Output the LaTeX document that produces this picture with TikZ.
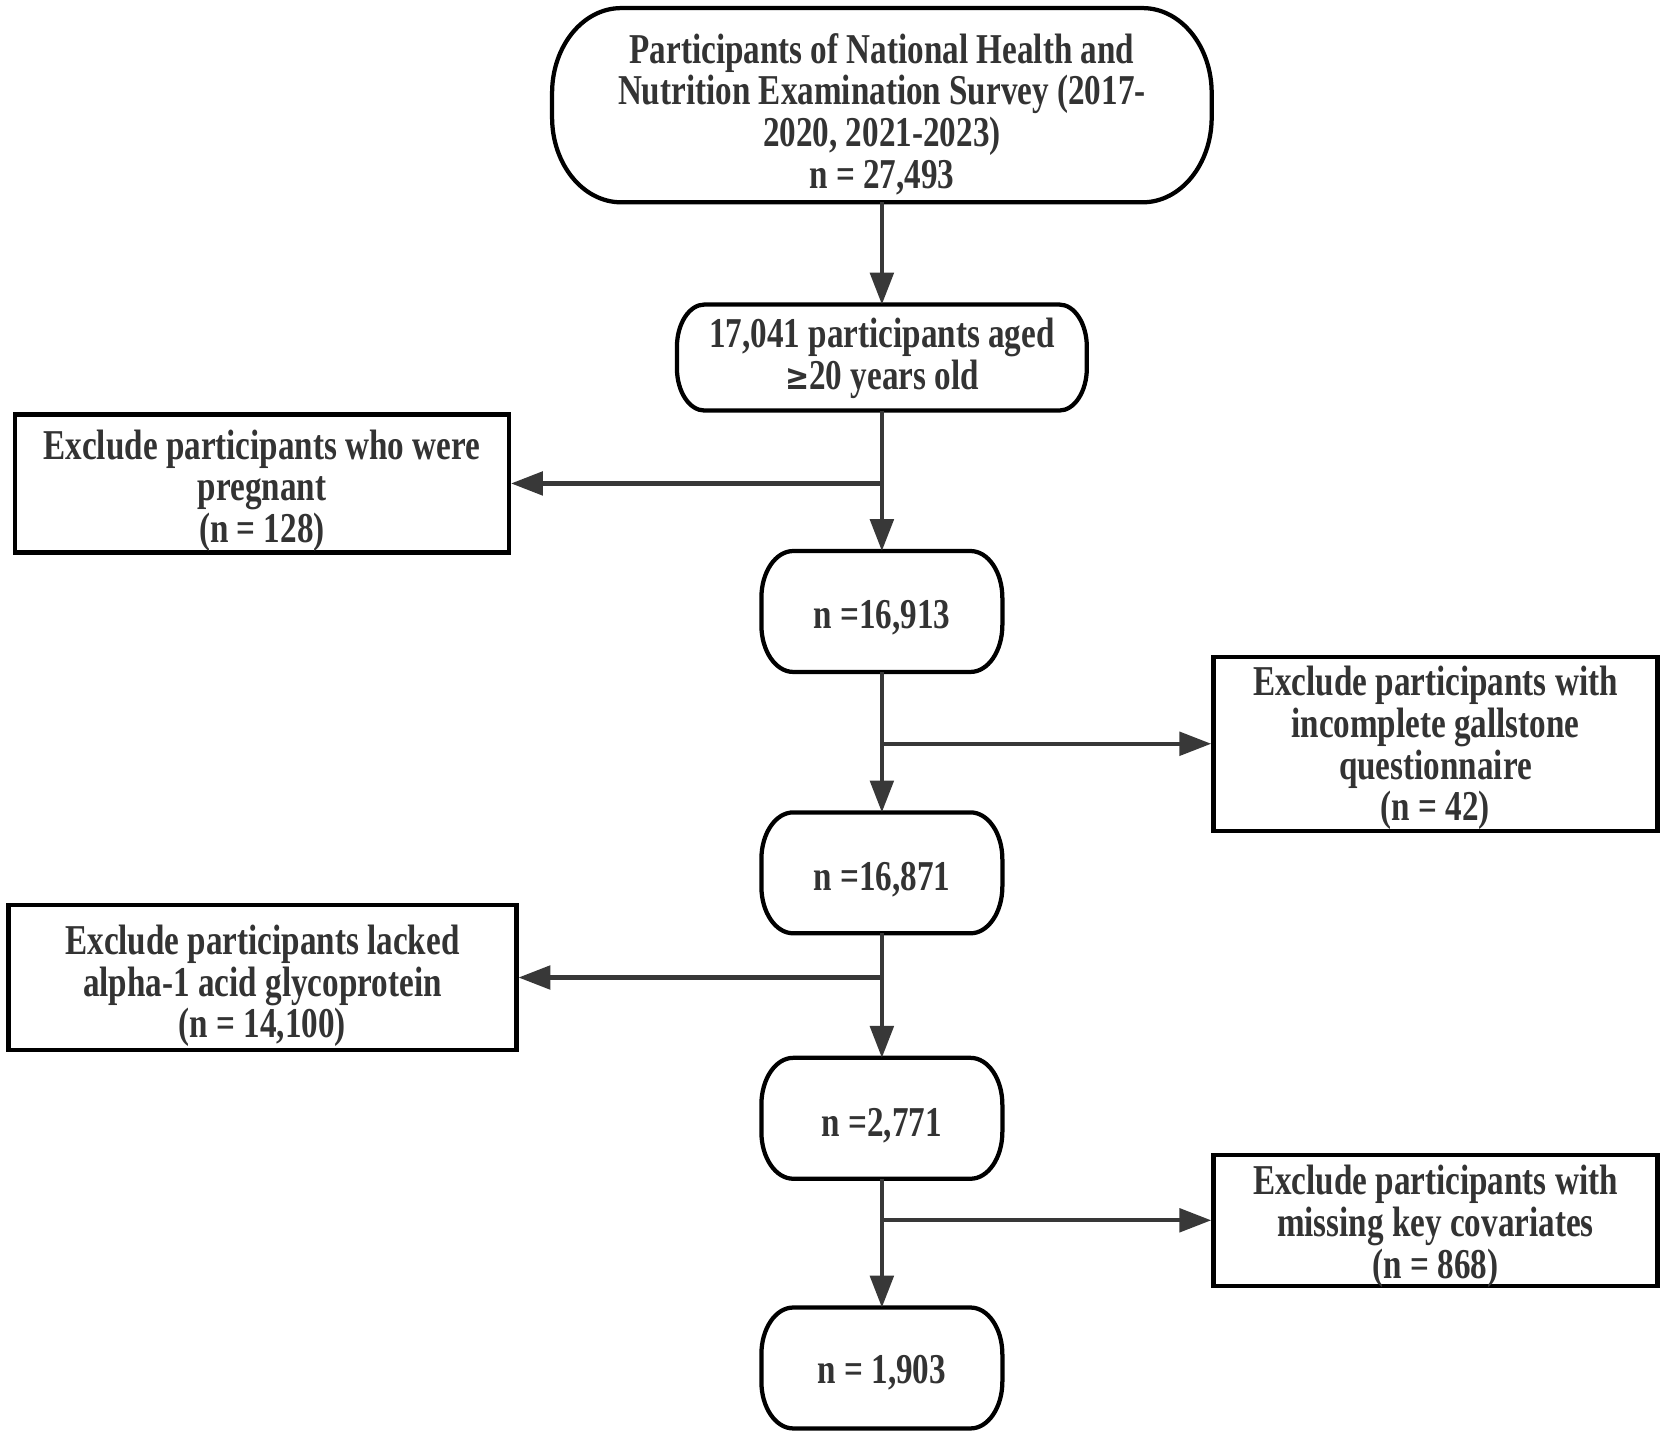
\documentclass[tikz,border=0pt]{standalone}
\usepackage{fontspec}
\setmainfont{Liberation Serif}[FakeStretch=0.78]
\usetikzlibrary{arrows.meta}
\definecolor{txt}{HTML}{333333}
\definecolor{ln}{HTML}{383838}
\newcommand\tstrut[1]{\rule{0pt}{#1pt}}
\newcommand\pillpath[3]{%
  \draw[boxline] ([xshift=#2]#1.north west) -- ([xshift=-#2]#1.north east)
    arc[start angle=90,end angle=0,x radius=#2,y radius=#3]
    -- ([yshift=#3]#1.south east)
    arc[start angle=0,end angle=-90,x radius=#2,y radius=#3]
    -- ([xshift=#2]#1.south west)
    arc[start angle=270,end angle=180,x radius=#2,y radius=#3]
    -- ([yshift=-#3]#1.north west)
    arc[start angle=180,end angle=90,x radius=#2,y radius=#3] -- cycle;}
\begin{document}
\begin{tikzpicture}[x=0.5pt,y=-0.5pt,
  boxline/.style={draw=black,line width=2pt},
  base/.style={align=center,text=txt,
    font=\fontsize{20}{19.7}\selectfont\bfseries,inner xsep=0pt,inner ysep=-12pt,
    execute at end node={\rule[-6pt]{0pt}{6pt}}},
  pill/.style={base},
  excl/.style={base,boxline,fill=white},
  conn/.style={draw=ln,line width=2pt,-{Triangle[length=15pt,width=11pt]}}]
\useasboundingbox (0,0) rectangle (1568,1350);
\node[pill,minimum width=310pt,minimum height=91pt] (b1) at (830,99)
  {\tstrut{25.5}Participants of National Health and\\Nutrition Examination Survey (2017-\\2020, 2021-2023)\\n = 27,493};
\node[pill,minimum width=192.5pt,minimum height=49.5pt] (b2) at (830,336.5)
  {\tstrut{16}17,041 participants aged\\{\fontspec{DejaVu Serif}[FakeStretch=0.8]\fontsize{17}{19.7}\selectfont\bfseries ≥}20 years old};
\node[excl,minimum width=232.5pt,minimum height=65pt] (e1) at (246.5,455)
  {\tstrut{22.5}Exclude participants who were\\pregnant\\(n = 128)};
\node[pill,minimum width=113pt,minimum height=56.5pt] (b3) at (830,575.5) {\tstrut{22}n =16,913};
\node[excl,minimum width=209pt,minimum height=82pt] (e2) at (1351,700)
  {\tstrut{19.5}Exclude participants with\\incomplete gallstone\\questionnaire\\(n = 42)};
\node[pill,minimum width=113pt,minimum height=56.5pt] (b4) at (830,821.5) {\tstrut{23}n =16,871};
\node[excl,minimum width=239pt,minimum height=68pt] (e3) at (247,920)
  {\tstrut{23.5}Exclude participants lacked\\alpha-1 acid glycoprotein\\(n = 14,100)};
\node[pill,minimum width=113pt,minimum height=56.5pt] (b5) at (830,1052.5) {\tstrut{23.5}n =2,771};
\node[excl,minimum width=209pt,minimum height=61.5pt] (e4) at (1351,1148.5)
  {\tstrut{21}Exclude participants with\\missing key covariates\\(n = 868)};
\node[pill,minimum width=113pt,minimum height=56.5pt] (b6) at (830,1287.5) {\tstrut{20.5}n = 1,903};
\pillpath{b1}{32.5pt}{40pt}
\pillpath{b2}{13pt}{20pt}
\foreach \n in {b3,b4,b5,b6} {\pillpath{\n}{15pt}{22pt}}
\draw[conn] (b1.south) -- (b2.north);
\draw[conn] (b2.south) -- (b3.north);
\draw[conn] (b2.south |- e1.east) -- (e1.east);
\draw[conn] (b3.south) -- (b4.north);
\draw[conn] (b3.south |- e2.west) -- (e2.west);
\draw[conn] (b4.south) -- (b5.north);
\draw[conn] (b4.south |- e3.east) -- (e3.east);
\draw[conn] (b5.south) -- (b6.north);
\draw[conn] (b5.south |- e4.west) -- (e4.west);
\end{tikzpicture}
\end{document}
